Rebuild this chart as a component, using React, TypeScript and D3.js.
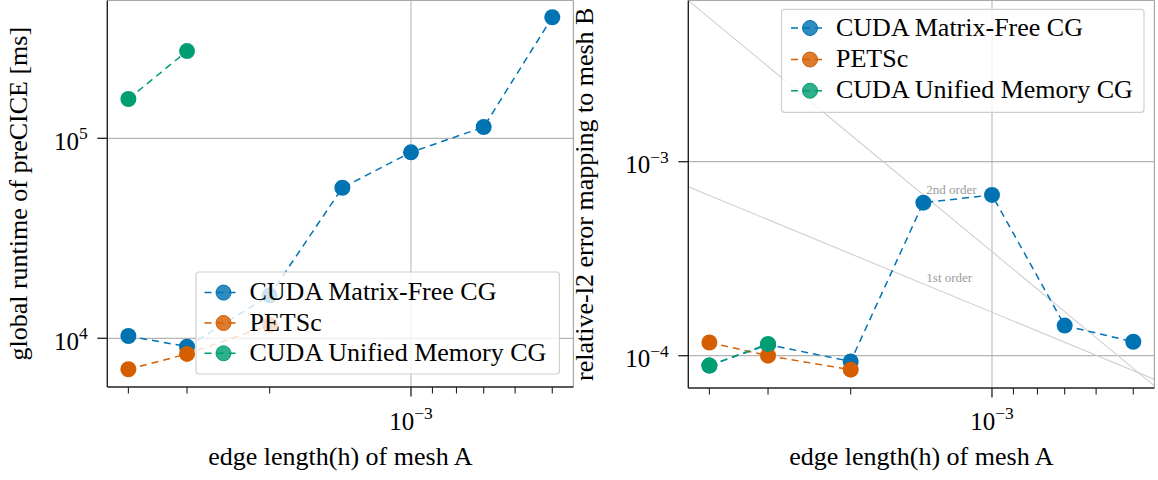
import React from "react";
import * as d3 from "d3";

// ---------------- data ----------------
const hMatrixFree = [4e-3, 3e-3, 2e-3, 1.4e-3, 1e-3, 7e-4, 5e-4];
const hPetsc = [4e-3, 3e-3, 2e-3];
const hUnified = [4e-3, 3e-3];

const runtimeMatrixFree = [10270, 9080, 16400, 56600, 85100, 113900, 403000];
const runtimePetsc = [7000, 8350, 11660];
const runtimeUnified = [157200, 273000];

const errorMatrixFree = [8.9e-5, 1.14e-4, 9.35e-5, 6.15e-4, 6.74e-4, 1.43e-4, 1.18e-4];
const errorPetsc = [1.17e-4, 1.0e-4, 8.47e-5];
const errorUnified = [8.9e-5, 1.15e-4];

const seriesNames = ["CUDA Matrix-Free CG", "PETSc", "CUDA Unified Memory CG"];
const seriesColors = ["#0173b2", "#d55e00", "#029e73"];

const xMajorTicks = [1e-3];
const xMinorTicks = [4e-3, 3e-3, 2e-3, 9e-4, 8e-4, 7e-4, 6e-4, 5e-4];
const runtimeTicks = [1e4, 1e5];
const errorTicks = [1e-4, 1e-3];

const refOrders = [1, 2];
const refCoeffs = [0.1675, 344];
const refLabels = ["1st order", "2nd order"];
const refLabelH = 1.38e-3;

const xDomain: [number, number] = [4.436e-3, 4.508e-4];
const runtimeDomain: [number, number] = [5708, 4.887e5];
const errorDomain: [number, number] = [6.817e-5, 6.776e-3];

const FONT = "'Liberation Serif', 'Times New Roman', serif";

type Series = { h: number[]; v: number[]; color: string; name: string };

function TickLabel({ x, y, v, anchor }: { x: number; y: number; v: number; anchor: string }) {
  const e = Math.round(Math.log10(v));
  const es = e < 0 ? "\u2212" + Math.abs(e) : String(e);
  return (
    <text x={x} y={y} textAnchor={anchor} fontFamily={FONT} fontSize={25} fill="#000">
      10
      <tspan fontSize={17.5} dy={-10.7}>
        {es}
      </tspan>
    </text>
  );
}

function Panel(props: {
  id: string;
  x0: number;
  x1: number;
  yTop: number;
  yBottom: number;
  yDomain: [number, number];
  yTicks: number[];
  series: Series[];
  ylabel: string;
  ylabelX: number;
  legendBox: [number, number, number, number];
  legendMarkerX: number;
  legendRows: number[];
  refs: boolean;
}) {
  const { id, x0, x1, yTop, yBottom } = props;
  const xs = d3.scaleLog().domain(xDomain).range([x0, x1]);
  const ys = d3.scaleLog().domain(props.yDomain).range([yBottom, yTop]);
  const line = d3
    .line<[number, number]>()
    .x((d) => xs(d[0]))
    .y((d) => ys(d[1]));
  const cx = (x0 + x1) / 2;
  const cy = (yTop + yBottom) / 2;
  const [lx, ly, lw, lh] = props.legendBox;
  const clipId = "clip-" + id;
  return (
    <g>
      <defs>
        <clipPath id={clipId}>
          <rect x={x0} y={yTop} width={x1 - x0} height={yBottom - yTop} />
        </clipPath>
      </defs>
      {/* grid */}
      {xMajorTicks.map((t) => (
        <line key={"gx" + t} x1={xs(t)} x2={xs(t)} y1={yTop} y2={yBottom} stroke="#c4c4c4" strokeWidth={1.3} />
      ))}
      {props.yTicks.map((t) => (
        <line key={"gy" + t} x1={x0} x2={x1} y1={ys(t)} y2={ys(t)} stroke="#b4b4b4" strokeWidth={1.2} />
      ))}
      {/* reference lines */}
      {props.refs && (
        <g clipPath={`url(#${clipId})`}>
          {refOrders.map((p, i) => {
            const hs = [xDomain[0] * 1.3, xDomain[1] / 1.3];
            const pts: [number, number][] = hs.map((h) => [h, refCoeffs[i] * Math.pow(h, p)]);
            return <path key={"ref" + p} d={line(pts) || ""} stroke="#cfcfcf" strokeWidth={1.1} fill="none" />;
          })}
          {refOrders.map((p, i) => (
            <text
              key={"rl" + p}
              x={xs(refLabelH)}
              y={ys(refCoeffs[i] * Math.pow(refLabelH, p)) - 3}
              fontFamily={FONT}
              fontSize={13}
              fill="#9a9a9a"
            >
              {refLabels[i]}
            </text>
          ))}
        </g>
      )}
      {/* data */}
      <g clipPath={`url(#${clipId})`}>
        {props.series.map((s) => (
          <path
            key={"l" + s.name}
            d={line(s.h.map((h, i) => [h, s.v[i]] as [number, number])) || ""}
            stroke={s.color}
            strokeWidth={1.5}
            strokeDasharray="7,5"
            fill="none"
          />
        ))}
        {props.series.map((s) => (
          <g key={"m" + s.name}>
            {s.h.map((h, i) => (
              <circle key={i} cx={xs(h)} cy={ys(s.v[i])} r={8} fill={s.color} />
            ))}
          </g>
        ))}
      </g>
      {/* spines */}
      <line x1={x0} x2={x1} y1={yTop} y2={yTop} stroke="#a8a8a8" strokeWidth={1.2} />
      <line x1={x1} x2={x1} y1={yTop} y2={yBottom} stroke="#a8a8a8" strokeWidth={1.2} />
      <line x1={x0} x2={x0} y1={yTop} y2={yBottom} stroke="#222" strokeWidth={1.4} />
      <line x1={x0} x2={x1} y1={yBottom} y2={yBottom} stroke="#222" strokeWidth={1.4} />
      {/* x ticks */}
      {xMajorTicks.map((t) => (
        <g key={"xt" + t}>
          <line x1={xs(t)} x2={xs(t)} y1={yBottom} y2={yBottom + 9.5} stroke="#222" strokeWidth={1.3} />
          <TickLabel x={xs(t)} y={430} v={t} anchor="middle" />
        </g>
      ))}
      {xMinorTicks.map((t) => (
        <line key={"xm" + t} x1={xs(t)} x2={xs(t)} y1={yBottom} y2={yBottom + 6.5} stroke="#222" strokeWidth={1.1} />
      ))}
      {/* y ticks */}
      {props.yTicks.map((t) => (
        <g key={"yt" + t}>
          <line x1={x0 - 10} x2={x0} y1={ys(t)} y2={ys(t)} stroke="#222" strokeWidth={1.3} />
          <TickLabel x={x0 - 19.5} y={ys(t) + 11.7} v={t} anchor="end" />
        </g>
      ))}
      {/* axis labels */}
      <text x={cx} y={465} textAnchor="middle" fontFamily={FONT} fontSize={26} fill="#000">
        edge length(h) of mesh A
      </text>
      <text
        transform={`translate(${props.ylabelX},${cy}) rotate(-90)`}
        textAnchor="middle"
        fontFamily={FONT}
        fontSize={26}
        fill="#000"
      >
        {props.ylabel}
      </text>
      {/* legend */}
      <rect x={lx} y={ly} width={lw} height={lh} rx={3} fill="#fff" fillOpacity={0.8} stroke="#d0d0d0" strokeWidth={1.2} />
      {props.series.map((s, i) => {
        const ry = props.legendRows[i];
        const mx = props.legendMarkerX;
        return (
          <g key={"lg" + s.name}>
            <line x1={mx - 19} x2={mx + 17} y1={ry} y2={ry} stroke={s.color} strokeWidth={1.5} strokeDasharray="7,5" />
            <circle cx={mx} cy={ry} r={7.5} fill={s.color} fillOpacity={0.82} stroke={s.color} strokeWidth={1} />
            <text x={mx + 26} y={ry + 7.5} fontFamily={FONT} fontSize={26} fill="#000">
              {s.name}
            </text>
          </g>
        );
      })}
    </g>
  );
}

export default function App() {
  const runtimeSeries: Series[] = [
    { h: hMatrixFree, v: runtimeMatrixFree, color: seriesColors[0], name: seriesNames[0] },
    { h: hPetsc, v: runtimePetsc, color: seriesColors[1], name: seriesNames[1] },
    { h: hUnified, v: runtimeUnified, color: seriesColors[2], name: seriesNames[2] },
  ];
  const errorSeries: Series[] = [
    { h: hMatrixFree, v: errorMatrixFree, color: seriesColors[0], name: seriesNames[0] },
    { h: hPetsc, v: errorPetsc, color: seriesColors[1], name: seriesNames[1] },
    { h: hUnified, v: errorUnified, color: seriesColors[2], name: seriesNames[2] },
  ];
  return (
    <svg
      width={1158}
      height={480}
      style={{ position: "absolute", left: 0, top: 0, display: "block", background: "#fff" }}
    >
      <rect x={0} y={0} width={1158} height={480} fill="#fff" />
      <Panel
        id="left"
        x0={107.3}
        x1={573.4}
        yTop={0.5}
        yBottom={387}
        yDomain={runtimeDomain}
        yTicks={runtimeTicks}
        series={runtimeSeries}
        ylabel="global runtime of preCICE [ms]"
        ylabelX={27}
        legendBox={[196, 272, 363.4, 102]}
        legendMarkerX={223.5}
        legendRows={[292.6, 323, 353.3]}
        refs={false}
      />
      <Panel
        id="right"
        x0={688.3}
        x1={1154.4}
        yTop={0.5}
        yBottom={388}
        yDomain={errorDomain}
        yTicks={errorTicks}
        series={errorSeries}
        ylabel="relative-l2 error mapping to mesh B"
        ylabelX={593}
        legendBox={[781.5, 9.3, 362.5, 103]}
        legendMarkerX={810}
        legendRows={[28, 59.5, 90.7]}
        refs={true}
      />
    </svg>
  );
}
